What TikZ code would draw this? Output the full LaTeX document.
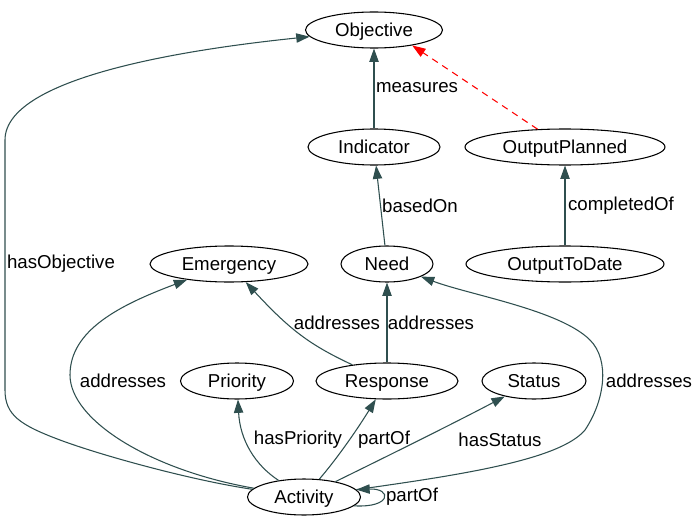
\documentclass[tikz,border=0pt]{standalone}
\usepackage{fontspec}
\setmainfont{Liberation Sans}
\usepackage{xcolor}
\definecolor{relgray}{HTML}{2F4F4F}
\definecolor{planred}{HTML}{FF0000}
\usetikzlibrary{arrows.meta,shapes.geometric}

\begin{document}
\begin{tikzpicture}[x=0.75pt,y=-0.75pt,font=\fontsize{14}{16}\selectfont,
  cls/.style={draw,ellipse,line width=0.8pt,minimum height=27pt,inner sep=0pt,
    text height=10pt,text depth=0pt},
  rel/.style={relgray,line width=0.8pt,-{Triangle[length=10pt,width=7pt]}},
  lbl/.style={inner sep=0pt}]
\useasboundingbox (0,0) rectangle (699,528);
% classes
\node[cls,minimum width=102.75pt] (obj) at (374,30) {Objective};
\node[cls,minimum width=99pt] (ind) at (374,147) {Indicator};
\node[cls,minimum width=150pt] (op) at (565,147) {OutputPlanned};
\node[cls,minimum width=118.5pt] (emg) at (229,264) {Emergency};
\node[cls,minimum width=69pt] (need) at (387,264) {Need};
\node[cls,minimum width=148.5pt] (otd) at (565,264) {OutputToDate};
\node[cls,minimum width=84.75pt] (pri) at (237,381) {Priority};
\node[cls,minimum width=106.5pt] (rsp) at (387,381) {Response};
\node[cls,minimum width=78pt] (sta) at (534,381) {Status};
\node[cls,minimum width=84.75pt] (act) at (304,497) {Activity};
% straight relations
\draw[rel] (ind) -- (obj);
\node[lbl] (l-meas) at (417,88) {measures};
\draw[rel] (need) -- (ind);
\node[lbl] (l-based) at (420,206) {basedOn};
\draw[rel] (otd) -- (op);
\node[lbl] (l-compl) at (621,206) {completedOf};
\draw[rel] (rsp) -- (need);
\node[lbl] (l-rn) at (431,323) {addresses};
\draw[planred,line width=0.8pt,dash pattern=on 5pt off 4pt,
  -{Triangle[length=10pt,width=7pt]}] (op.147) -- (obj.-22);
% curved relations
\draw[rel] (rsp) .. controls (310,345) and (290,330) .. (emg);
\node[lbl] (l-re) at (337,323) {addresses};
\draw[rel] (act) .. controls (255,465) and (240,440) .. (pri);
\node[lbl] (l-prio) at (298,440) {hasPriority};
\draw[rel] (act) .. controls (340,455) and (360,425) .. (rsp);
\node[lbl] (l-part) at (384,440) {partOf};
\draw[rel] (act) .. controls (400,450) and (460,420) .. (sta);
\node[lbl] (l-stat) at (500,440) {hasStatus};
\draw[rel] (act) .. controls (150,470) and (70,420) .. (70,375)
  .. controls (70,330) and (120,305) .. (emg);
\node[lbl] (l-ae) at (123,381) {addresses};
\draw[rel] (act) .. controls (460,475) and (560,460) .. (585,430)
  .. controls (605,400) and (610,360) .. (590,340)
  .. controls (560,310) and (470,295) .. (need);
\node[lbl] (l-an) at (649,381) {addresses};
\draw[rel] (act) .. controls (190,480) and (100,455) .. (60,440)
  .. controls (20,425) and (5,415) .. (5,390) -- (5,140)
  .. controls (5,75) and (200,48) .. (obj);
\node[lbl] (l-obj) at (61,264) {hasObjective};
% self loop
\draw[rel] (act.-10) .. controls (392,508) and (392,488) .. (act.8);
\node[lbl] (l-loop) at (412,497) {partOf};
\end{tikzpicture}
\end{document}
